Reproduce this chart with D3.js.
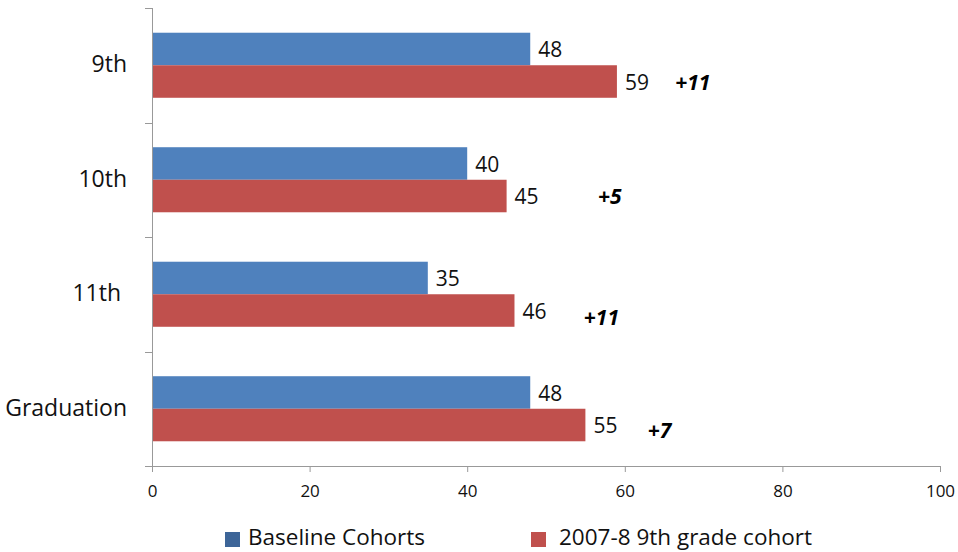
<!DOCTYPE html>
<html>
<head>
<meta charset="utf-8">
<script src="https://cdn.jsdelivr.net/npm/d3@7"></script>
<style>
  html, body { margin: 0; padding: 0; background: #fff; }
  svg { display: block; font-family: "Open Sans", "Noto Sans", sans-serif; }
</style>
</head>
<body>
<svg id="chart" width="958" height="552"></svg>
<script>
// Grade milestones and the two cohorts compared on each
const categories = ["9th", "10th", "11th", "Graduation"];
const seriesNames = ["Baseline Cohorts", "2007-8 9th grade cohort"];
const baseline = [48, 40, 35, 48];
const cohort2007 = [59, 45, 46, 55];
const xTicks = [0, 20, 40, 60, 80, 100];

const colors = ["#4F81BD", "#C0504D"];
const legendColors = ["#3D6598", "#C0504D"];

// Where each gain note sits, in axis units and pixel drop below the red bar centre
const gainPlacement = [
  { x: 66.4, dy: 1 },
  { x: 56.6, dy: 1 },
  { x: 54.8, dy: 7 },
  { x: 62.9, dy: 6 }
];

const svg = d3.select("#chart");
const plotLeft = 152, plotRight = 940, plotTop = 8, plotBottom = 466;

const x = d3.scaleLinear().domain([0, 100]).range([plotLeft, plotRight]);
const y = d3.scaleBand().domain(categories).range([plotTop, plotBottom]).paddingInner(0).paddingOuter(0);
const inner = d3.scaleBand().domain([0, 1]).range([0, y.bandwidth()]).paddingInner(0).paddingOuter(0.76);

const rows = categories.map((c, i) => ({ cat: c, vals: [baseline[i], cohort2007[i]] }));

// Bars, value labels and gain notes
const g = svg.append("g");
rows.forEach((r, i) => {
  r.vals.forEach((v, s) => {
    g.append("rect")
      .attr("x", x(0))
      .attr("y", y(r.cat) + inner(s))
      .attr("width", x(v) - x(0))
      .attr("height", inner.bandwidth())
      .attr("fill", colors[s]);
    g.append("text")
      .attr("x", x(v) + 8)
      .attr("y", y(r.cat) + inner(s) + inner.bandwidth() / 2 + 1)
      .attr("dy", "0.35em")
      .attr("font-size", 21)
      .attr("fill", "#111")
      .text(v);
  });
  const gain = r.vals[1] - r.vals[0];
  const p = gainPlacement[i];
  g.append("text")
    .attr("x", x(p.x))
    .attr("y", y(r.cat) + inner(1) + inner.bandwidth() / 2 + p.dy)
    .attr("dy", "0.35em")
    .attr("font-size", 21)
    .attr("font-weight", "bold")
    .attr("font-style", "italic")
    .attr("fill", "#000")
    .text("+" + gain);
});

// X axis
const xAxis = svg.append("g")
  .attr("transform", `translate(0,${plotBottom})`)
  .call(d3.axisBottom(x).tickValues(xTicks).tickSize(6).tickPadding(13).tickSizeOuter(0));
xAxis.select(".domain").attr("stroke", "#999").attr("d", `M${plotLeft - 7},0.5H${plotRight}`);
xAxis.selectAll(".tick line").attr("stroke", "#999");
xAxis.selectAll(".tick text").attr("font-size", 17).attr("fill", "#111").attr("font-family", "Open Sans, sans-serif");

// Y axis: line with tick marks at band boundaries
const yg = svg.append("g");
yg.append("line")
  .attr("x1", plotLeft + 0.5).attr("x2", plotLeft + 0.5)
  .attr("y1", plotTop).attr("y2", plotBottom)
  .attr("stroke", "#999");
const bounds = categories.map(c => y(c)).concat([plotBottom]);
yg.selectAll("line.tk").data(bounds).join("line")
  .attr("class", "tk")
  .attr("x1", plotLeft - 7).attr("x2", plotLeft)
  .attr("y1", d => Math.round(d) + 0.5).attr("y2", d => Math.round(d) + 0.5)
  .attr("stroke", "#999");
yg.selectAll("text").data(categories).join("text")
  .attr("x", 127)
  .attr("y", d => y(d) + y.bandwidth() / 2 - 1)
  .attr("dy", "0.35em")
  .attr("text-anchor", "end")
  .attr("font-size", 23)
  .attr("fill", "#111")
  .style("white-space", "pre")
  .text(d => d === "11th" ? "11th\u00a0" : d);

// Legend
const legendX = [225, 531];
const legendTextX = [248, 559];
const lg = svg.append("g");
seriesNames.forEach((name, i) => {
  lg.append("rect")
    .attr("x", legendX[i]).attr("y", 532)
    .attr("width", 15).attr("height", 15)
    .attr("fill", legendColors[i]);
  lg.append("text")
    .attr("x", legendTextX[i]).attr("y", 537)
    .attr("dy", "0.35em")
    .attr("font-size", 22.5)
    .attr("fill", "#111")
    .text(name);
});
</script>
</body>
</html>
